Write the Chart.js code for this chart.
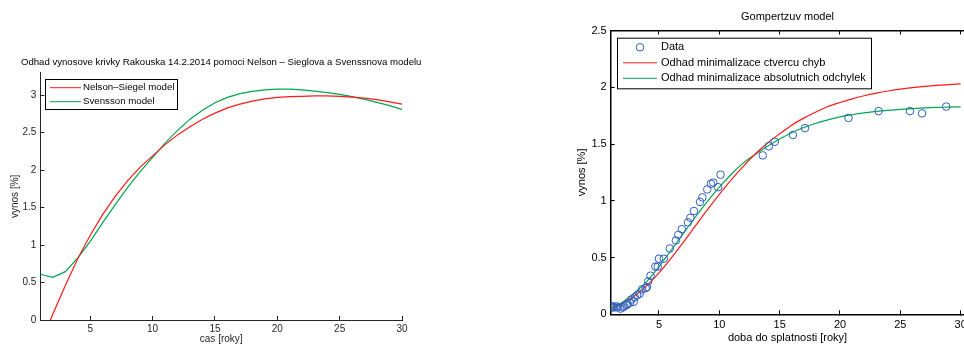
<!DOCTYPE html>
<html>
<head>
<meta charset="utf-8">
<script src="https://cdn.jsdelivr.net/npm/chart.js@4.4.1/dist/chart.umd.min.js"></script>
<style>
  html, body { margin: 0; padding: 0; background: #fff; overflow: hidden; width: 964px; height: 345px; }
  #left { position: absolute; left: 0; top: 0; }
  #right { position: absolute; left: 560px; top: 0; }
</style>
</head>
<body>
<canvas id="left" width="440" height="345"></canvas>
<canvas id="right" width="420" height="345"></canvas>
<script>
// ===== LEFT: yield curve Austria =====
const maturities = [1, 2, 3, 4, 5, 6, 7, 8, 9, 10, 11, 12, 13, 14, 15, 16, 17, 18, 19, 20, 21, 22, 23, 24, 25, 26, 27, 28, 29, 30];
const nelsonSiegel = [-0.33, 0.08, 0.46, 0.82, 1.13, 1.41, 1.65, 1.86, 2.04, 2.19, 2.34, 2.47, 2.58, 2.68, 2.76, 2.83, 2.88, 2.92, 2.95, 2.97, 2.98, 2.985, 2.99, 2.99, 2.985, 2.975, 2.96, 2.94, 2.91, 2.88];
const svensson = [0.61, 0.57, 0.645, 0.83, 1.05, 1.30, 1.54, 1.77, 1.98, 2.17, 2.36, 2.53, 2.68, 2.80, 2.90, 2.97, 3.02, 3.05, 3.07, 3.08, 3.08, 3.07, 3.055, 3.035, 3.01, 2.98, 2.945, 2.905, 2.86, 2.81];
const leftXTicks = [5, 10, 15, 20, 25, 30];
const leftYTicks = [0, 0.5, 1, 1.5, 2, 2.5, 3];

// ===== RIGHT: Gompertz model =====
const dataX = [1.0, 1.1, 1.2, 1.3, 1.5, 1.6, 1.8, 2.0, 2.1, 2.3, 2.4, 2.6, 2.7, 2.9, 3.0, 3.2, 3.4, 3.6, 3.9, 4.0, 4.1, 4.3, 4.7, 4.9, 5.0, 5.4, 5.9, 6.4, 6.6, 6.9, 7.4, 7.6, 7.9, 8.4, 8.6, 9.0, 9.3, 9.5, 9.9, 10.1, 13.6, 14.1, 14.6, 16.1, 17.1, 20.7, 23.2, 25.8, 26.8, 28.8];
const dataY = [0.07, 0.06, 0.07, 0.06, 0.07, 0.06, 0.05, 0.06, 0.07, 0.08, 0.09, 0.10, 0.13, 0.11, 0.15, 0.17, 0.18, 0.22, 0.23, 0.24, 0.29, 0.34, 0.42, 0.42, 0.49, 0.49, 0.58, 0.65, 0.70, 0.75, 0.81, 0.85, 0.91, 0.99, 1.03, 1.10, 1.15, 1.16, 1.12, 1.23, 1.40, 1.48, 1.52, 1.58, 1.64, 1.73, 1.79, 1.79, 1.77, 1.83];
const fitX = [1, 2, 3, 4, 5, 6, 7, 8, 9, 10, 11, 12, 13, 14, 15, 16, 17, 18, 19, 20, 21, 22, 23, 24, 25, 26, 27, 28, 29, 30];
const leastSquares = [0.05, 0.096, 0.163, 0.254, 0.365, 0.493, 0.632, 0.776, 0.919, 1.057, 1.187, 1.306, 1.414, 1.509, 1.59, 1.666, 1.728, 1.782, 1.83, 1.866, 1.898, 1.925, 1.948, 1.967, 1.983, 1.996, 2.007, 2.016, 2.024, 2.03];
const leastAbsolute = [0.055, 0.109, 0.19, 0.29, 0.42, 0.563, 0.71, 0.855, 0.993, 1.12, 1.234, 1.334, 1.41, 1.48, 1.545, 1.60, 1.645, 1.683, 1.713, 1.739, 1.758, 1.774, 1.787, 1.797, 1.805, 1.812, 1.818, 1.822, 1.825, 1.828];
const rightXTicks = [5, 10, 15, 20, 25, 30];
const rightYTicks = [0, 0.5, 1, 1.5, 2, 2.5];

const FONT = "'Liberation Sans', Arial, sans-serif";

// legend with a black frame, like matlab
const boxLegend = {
    id: "boxLegend",
    afterDraw(chart, args, o) {
        const ctx = chart.ctx;
        ctx.save();
        ctx.fillStyle = "#fff";
        ctx.fillRect(o.x, o.y, o.w, o.h);
        ctx.strokeStyle = "#000";
        ctx.lineWidth = 1;
        ctx.strokeRect(o.x + 0.5, o.y + 0.5, o.w, o.h);
        ctx.font = o.size + "px " + FONT;
        ctx.textBaseline = "middle";
        chart.data.datasets.forEach(function (ds, i) {
            const y = o.y + o.rowTop + i * o.rowGap;
            ctx.strokeStyle = ds.borderColor;
            ctx.lineWidth = 1;
            ctx.beginPath();
            if (ds.showLine === false) {
                ctx.arc(o.x + o.markX, y, 3.8, 0, Math.PI * 2);
            } else {
                ctx.moveTo(o.x + o.lineX0, y);
                ctx.lineTo(o.x + o.lineX1, y);
            }
            ctx.stroke();
            ctx.fillStyle = "#000";
            ctx.fillText(ds.label, o.x + o.textX, y);
        });
        ctx.restore();
    }
};

// title centred over the plot area, not squeezed to its width
const plotTitle = {
    id: "plotTitle",
    afterDraw(chart, args, o) {
        if (!o.text) return;
        const ctx = chart.ctx;
        const a = chart.chartArea;
        ctx.save();
        ctx.font = o.size + "px " + FONT;
        ctx.fillStyle = "#000";
        ctx.textAlign = "center";
        ctx.textBaseline = "middle";
        ctx.fillText(o.text, (a.left + a.right) / 2, o.y);
        ctx.restore();
    }
};

function fixedTicks(list) {
    return function (scale) {
        scale.ticks = list.map(function (v) { return { value: v }; });
    };
}

function plainLabel(v) {
    return String(v);
}

// Left chart
new Chart(document.getElementById("left"), {
    type: "line",
    data: {
        datasets: [{
            label: "Nelson\u2013Siegel model",
            data: maturities.map((x, i) => ({ x: x, y: nelsonSiegel[i] })),
            borderColor: "#ff1a1a",
            borderWidth: 1.2,
            pointRadius: 0,
            tension: 0
        }, {
            label: "Svensson model",
            data: maturities.map((x, i) => ({ x: x, y: svensson[i] })),
            borderColor: "#00a651",
            borderWidth: 1.2,
            pointRadius: 0,
            tension: 0
        }]
    },
    options: {
        responsive: false,
        animation: false,
        layout: { padding: { left: 0, right: 38, top: 72.7, bottom: 0 } },
        plugins: {
            legend: { display: false },
            tooltip: { enabled: false },
            plotTitle: {
                text: "Odhad vynosove krivky Rakouska 14.2.2014 pomoci Nelson \u2013 Sieglova a Svenssnova modelu",
                size: 9.6,
                y: 62.5
            },
            boxLegend: { x: 45, y: 79, w: 132, h: 30, rowTop: 8.7, rowGap: 14, lineX0: 5, lineX1: 36, textX: 38, size: 9.7 }
        },
        scales: {
            x: {
                type: "linear",
                min: 1,
                max: 30,
                afterBuildTicks: fixedTicks(leftXTicks),
                afterFit: function (s) { s.height = 25; },
                grid: { drawOnChartArea: false, tickLength: -4, color: "#262626" },
                border: { color: "#262626", width: 1 },
                ticks: { color: "#262626", font: { family: FONT, size: 10 }, padding: 7, maxRotation: 0, callback: plainLabel },
                title: { display: true, text: "cas [roky]", color: "#262626", font: { family: FONT, size: 10, lineHeight: 1.2 }, padding: 0 }
            },
            y: {
                min: 0,
                max: 3.3,
                afterBuildTicks: fixedTicks(leftYTicks),
                afterFit: function (s) { s.width = 40.4; },
                grid: { drawOnChartArea: false, tickLength: -4, color: "#262626" },
                border: { color: "#262626", width: 1 },
                ticks: { color: "#262626", font: { family: FONT, size: 10 }, padding: 8, callback: plainLabel },
                title: { display: true, text: "vynos [%]", color: "#262626", font: { family: FONT, size: 10, lineHeight: 1.2 }, padding: { top: 9 } }
            }
        }
    },
    plugins: [boxLegend, plotTitle]
});

// Right chart
new Chart(document.getElementById("right"), {
    type: "scatter",
    data: {
        datasets: [{
            label: "Data",
            data: dataX.map((x, i) => ({ x: x, y: dataY[i] })),
            showLine: false,
            borderColor: "#2f5fbf",
            backgroundColor: "rgba(0,0,0,0)",
            borderWidth: 1,
            pointRadius: 3.8
        }, {
            label: "Odhad minimalizace ctvercu chyb",
            data: fitX.map((x, i) => ({ x: x, y: leastSquares[i] })),
            showLine: true,
            borderColor: "#ff1a1a",
            borderWidth: 1.2,
            pointRadius: 0,
            cubicInterpolationMode: "monotone"
        }, {
            label: "Odhad minimalizace absolutnich odchylek",
            data: fitX.map((x, i) => ({ x: x, y: leastAbsolute[i] })),
            showLine: true,
            borderColor: "#00a651",
            borderWidth: 1.2,
            pointRadius: 0,
            cubicInterpolationMode: "monotone"
        }]
    },
    options: {
        responsive: false,
        animation: false,
        layout: { padding: { left: 0, right: 15.7, top: 0, bottom: 0 } },
        plugins: {
            legend: { display: false },
            tooltip: { enabled: false },
            title: {
                display: true,
                fullSize: false,
                text: "Gompertzuv model",
                color: "#000",
                font: { family: FONT, size: 11, weight: "normal", lineHeight: 1.2 },
                padding: { top: 10.4, bottom: 6.9 }
            },
            boxLegend: { x: 57, y: 37.7, w: 254, h: 50.6, rowTop: 9.6, rowGap: 15.5, markX: 23, lineX0: 6, lineX1: 40, textX: 44, size: 11 }
        },
        scales: {
            x: {
                type: "linear",
                min: 1,
                max: 30.3,
                afterBuildTicks: fixedTicks(rightXTicks),
                afterFit: function (s) { s.height = 30.7; },
                grid: { drawOnChartArea: false, tickLength: -4, color: "#000" },
                border: { color: "#000", width: 1.5 },
                ticks: { color: "#000", font: { family: FONT, size: 11 }, padding: 8, maxRotation: 0, callback: plainLabel },
                title: { display: true, text: "doba do splatnosti [roky]", color: "#000", font: { family: FONT, size: 11, lineHeight: 1.2 }, padding: { bottom: 0.4 } }
            },
            x2: {
                type: "linear",
                position: "top",
                min: 1,
                max: 30.3,
                afterBuildTicks: fixedTicks(rightXTicks),
                afterFit: function (s) { s.height = 0; },
                grid: { drawOnChartArea: false, tickLength: -4, color: "#000" },
                border: { color: "#000", width: 1.5 },
                ticks: { display: false }
            },
            y: {
                min: 0,
                max: 2.5,
                afterBuildTicks: fixedTicks(rightYTicks),
                afterFit: function (s) { s.width = 50.7; },
                grid: { drawOnChartArea: false, tickLength: -4, color: "#000" },
                border: { color: "#000", width: 1.5 },
                ticks: { color: "#000", font: { family: FONT, size: 11 }, padding: 8, callback: plainLabel },
                title: { display: true, text: "vynos [%]", color: "#000", font: { family: FONT, size: 11, lineHeight: 1.2 }, padding: { top: 15.4 } }
            }
        }
    },
    plugins: [boxLegend]
});
</script>
</body>
</html>
